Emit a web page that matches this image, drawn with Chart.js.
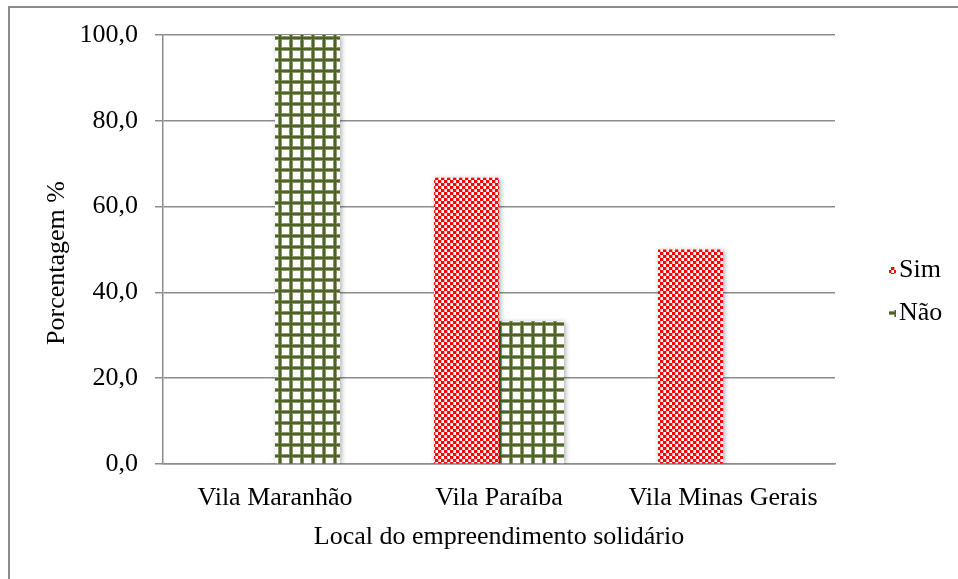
<!DOCTYPE html>
<html lang="pt">
<head>
<meta charset="utf-8">
<title>Local do empreendimento solidário</title>
<script src="https://cdn.jsdelivr.net/npm/chart.js@4.4.1/dist/chart.umd.min.js"></script>
<style>
    html, body { margin: 0; padding: 0; background: #fff; }
    #wrap { width: 958px; height: 579px; }
</style>
</head>
<body>
<div id="wrap"><canvas id="chart" width="958" height="579"></canvas></div>
<script>
// Respostas por local (%)
const categories = ["Vila Maranhão", "Vila Paraíba", "Vila Minas Gerais"];
const seriesNames = ["Sim", "Não"];
const simValues = [0, 66.7, 50.0];
const naoValues = [100.0, 33.3, 0];
const yTickValues = [0, 20, 40, 60, 80, 100];
const yTickLabels = ["0,0", "20,0", "40,0", "60,0", "80,0", "100,0"];
const yTitle = "Porcentagem %";

const FONT = "'Liberation Serif', 'Times New Roman', serif";
const GRID = "#8c8c8c";

// Red checkerboard fill
function makeCheckerPattern() {
    const c = document.createElement("canvas");
    c.width = 6; c.height = 6;
    const g = c.getContext("2d");
    g.fillStyle = "#fff";
    g.fillRect(0, 0, 6, 6);
    g.fillStyle = "#ff0000";
    g.fillRect(0, 0, 3, 3);
    g.fillRect(3, 3, 3, 3);
    g.fillStyle = "rgba(255,0,0,0.35)";
    g.fillRect(3, 0, 1, 3);
    g.fillRect(0, 3, 1, 3);
    return c;
}

// Olive green grid fill
function makeGridPattern() {
    const c = document.createElement("canvas");
    c.width = 11; c.height = 11;
    const g = c.getContext("2d");
    g.fillStyle = "#fff";
    g.fillRect(0, 0, 11, 11);
    g.fillStyle = "#8a9a6a";
    g.fillRect(3, 0, 4, 11);
    g.fillRect(0, 3, 11, 4);
    g.fillStyle = "#4f6228";
    g.fillRect(4, 0, 2, 11);
    g.fillRect(0, 4, 11, 2);
    return c;
}

const ctx = document.getElementById("chart").getContext("2d");
const simFill = ctx.createPattern(makeCheckerPattern(), "repeat");
const naoFill = ctx.createPattern(makeGridPattern(), "repeat");

// White page and the outer frame of the chart
const framePlugin = {
    id: "frame",
    beforeDraw(chart) {
        const c = chart.ctx;
        c.save();
        c.fillStyle = "#fff";
        c.fillRect(0, 0, chart.width, chart.height);
        c.strokeStyle = GRID;
        c.lineWidth = 2;
        c.strokeRect(9, 7, chart.width + 20, chart.height + 20);
        c.restore();
    }
};

// Soft shadow under the bars
const shadowPlugin = {
    id: "barShadow",
    beforeDatasetsDraw(chart) {
        const c = chart.ctx;
        c.save();
        c.shadowColor = "rgba(0,0,0,0.32)";
        c.shadowBlur = 5;
        c.shadowOffsetX = 1.5;
        c.shadowOffsetY = 1;
    },
    afterDatasetsDraw(chart) {
        chart.ctx.restore();
    }
};

// Vertical axis title and the legend on the right side
const labelsPlugin = {
    id: "sideLabels",
    afterDraw(chart) {
        const c = chart.ctx;
        c.save();
        c.font = "26px " + FONT;
        c.fillStyle = "#000";
        c.textBaseline = "middle";
        c.textAlign = "center";
        c.translate(57, 263);
        c.rotate(-Math.PI / 2);
        c.fillText(yTitle, 0, 0);
        c.restore();

        const x = 889, y0 = 270, step = 43;
        c.save();
        c.font = "26px " + FONT;
        c.textBaseline = "middle";
        c.textAlign = "left";
        chart.data.datasets.forEach((ds, i) => {
            const y = y0 + i * step;
            c.fillStyle = ds.backgroundColor;
            c.fillRect(x, y - 3, 7, 7);
            c.fillStyle = "#000";
            c.fillText(ds.label, x + 10, y);
        });
        c.restore();
    }
};

new Chart(ctx, {
    type: "bar",
    data: {
        labels: categories,
        datasets: [
            { label: seriesNames[0], data: simValues, backgroundColor: simFill },
            { label: seriesNames[1], data: naoValues, backgroundColor: naoFill }
        ]
    },
    options: {
        responsive: false,
        animation: false,
        devicePixelRatio: 1,
        layout: { padding: { top: 35, right: 123, left: 0, bottom: 0 } },
        datasets: {
            bar: { categoryPercentage: 0.58, barPercentage: 1, borderWidth: 0 }
        },
        plugins: {
            legend: { display: false },
            tooltip: { enabled: false }
        },
        scales: {
            x: {
                grid: { display: false, drawTicks: false, tickLength: 0 },
                border: { display: true, color: GRID, width: 1.5 },
                ticks: { color: "#000", font: { family: FONT, size: 26 }, padding: 19, maxRotation: 0 },
                title: {
                    display: true,
                    text: "Local do empreendimento solidário",
                    color: "#000",
                    font: { family: FONT, size: 26 },
                    padding: { top: 0, bottom: 26 }
                },
                afterFit(scale) {
                    scale.height = 115;
                    scale.paddingLeft = 0;
                    scale.paddingRight = 0;
                }
            },
            y: {
                min: 0,
                max: 100,
                afterBuildTicks(scale) {
                    scale.ticks = yTickValues.map(v => ({ value: v }));
                },
                grid: { color: GRID, lineWidth: 1.5, tickLength: 8, tickColor: GRID },
                border: { display: true, color: GRID, width: 1.5 },
                ticks: {
                    color: "#000",
                    font: { family: FONT, size: 26 },
                    padding: 17,
                    callback: (value, index) => yTickLabels[index]
                },
                afterFit(scale) {
                    scale.width = 163;
                    scale.paddingTop = 0;
                    scale.paddingBottom = 0;
                }
            }
        }
    },
    plugins: [framePlugin, shadowPlugin, labelsPlugin]
});
</script>
</body>
</html>
